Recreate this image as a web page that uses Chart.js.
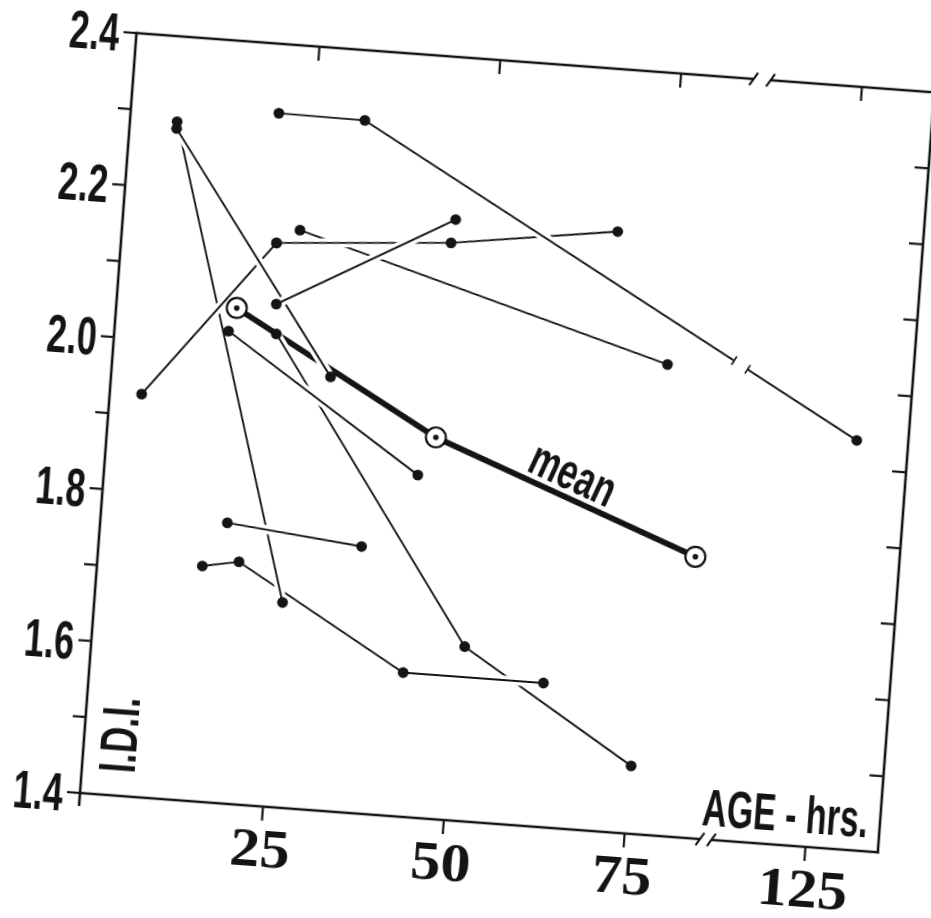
<!DOCTYPE html>
<html>
<head>
<meta charset="utf-8">
<title>I.D.I. against age</title>
<script src="https://cdn.jsdelivr.net/npm/chart.js@4.4.1/dist/chart.umd.min.js"></script>
<style>
  html, body { margin:0; padding:0; background:#fff; width:931px; height:918px; overflow:hidden; }
  #wrap { position:absolute; left:0; top:0; width:960px; height:902px; }
  #c { display:block; width:960px; height:902px; }
</style>
</head>
<body>
<div id="wrap"><canvas id="c" width="960" height="902"></canvas></div>
<script>
// ---------------- data ----------------
// x = age in hours, y = I.D.I.
const xTickLabels = ['25', '50', '75', '125'];
const yTickLabels = ['1.4', '1.6', '1.8', '2.0', '2.2', '2.4'];
const yMinorTicks = [1.5, 1.7, 1.9, 2.1, 2.3];

const meanAge = [16.3, 45.0, 81.9];
const meanIDI = [2.050, 1.900, 1.769];

const aAge = [6.2, 25.6];             const aIDI = [2.288, 1.669];
const bAge = [6.2, 29.9];             const bIDI = [2.279, 1.969];
const cAge = [22.0, 51.1, 75.2];      const cIDI = [2.020, 1.629, 1.489];
const dAge = [15.4, 42.9];            const dIDI = [2.019, 1.849];
const eAge = [4.1, 21.1];             const eIDI = [1.928, 2.139];
const fAge = [21.1, 45.1, 67.9];      const fIDI = [2.139, 2.156, 2.187];
const gAge = [24.2, 76.1];            const gIDI = [2.158, 2.018];
const hAge = [21.7, 45.5];            const hIDI = [2.059, 2.187];
const iAge = [20.1, 32.0, 127.9];     const iIDI = [2.309, 2.308, 1.937];
const jAge = [14.2, 19.2, 42.9, 62.3]; const jIDI = [1.709, 1.718, 1.589, 1.589];
const kAge = [17.2, 35.9];            const kIDI = [1.768, 1.750];

// ---------------- axis break: hours above 100 are drawn 25 h further left ----------------
const BREAK_ABOVE = 100, BREAK_SHIFT = 25, BREAK_AT = 86.2;
const plotX = h => (h > BREAK_ABOVE ? h - BREAK_SHIFT : h);
const toPts = (ages, vals) => ages.map((a, i) => ({ x: plotX(a), y: vals[i] }));

const INK = '#141414';
// drawing order, bottom to top (later lines cut small gaps into earlier ones)
const series = [[cAge, cIDI], [jAge, jIDI], [aAge, aIDI], [eAge, eIDI], [bAge, bIDI], [dAge, dIDI],
                [kAge, kIDI], [gAge, gIDI], [fAge, fIDI], [iAge, iIDI], [hAge, hIDI]];

const datasets = [];
let ord = 1000;
datasets.push({ label: 'mean', data: toPts(meanAge, meanIDI), showLine: true, borderColor: INK,
                borderWidth: 5.8, pointRadius: 0, order: ord-- });
series.forEach(([a, v], k) => {
  datasets.push({ label: 'gap' + k, data: toPts(a, v), showLine: true, borderColor: '#fff', borderWidth: 9,
                  borderJoinStyle: 'round', pointRadius: 0, order: ord-- });
  datasets.push({ label: 'subject' + k, data: toPts(a, v), showLine: true, borderColor: INK, borderWidth: 1.9,
                  pointRadius: 0, order: ord-- });
});
datasets.push({ label: 'points', data: series.flatMap(([a, v]) => toPts(a, v)), showLine: false,
                pointRadius: 5.4, pointBackgroundColor: INK, pointBorderColor: INK, pointBorderWidth: 0, order: ord-- });
datasets.push({ label: 'mean points', data: toPts(meanAge, meanIDI), showLine: false, pointRadius: 10,
                pointBackgroundColor: '#fff', pointBorderColor: INK, pointBorderWidth: 2.2, order: ord-- });
datasets.push({ label: 'mean centres', data: toPts(meanAge, meanIDI), showLine: false, pointRadius: 2.8,
                pointBackgroundColor: INK, pointBorderColor: INK, pointBorderWidth: 0, order: ord-- });

// ---------------- drawing helpers ----------------
function fitScale(ctx, font, text, width) {
  ctx.save(); ctx.font = font; const w = ctx.measureText(text).width; ctx.restore();
  return width / w;
}
function condText(ctx, text, x, y, font, sx, align, angle) {
  ctx.save();
  ctx.font = font; ctx.textAlign = align; ctx.textBaseline = 'alphabetic'; ctx.fillStyle = INK;
  ctx.translate(x, y);
  if (angle) ctx.rotate(angle);
  ctx.scale(sx, 1);
  ctx.fillText(text, 0, 0);
  ctx.restore();
}

const framePlugin = {
  id: 'frame',
  afterDatasetsDraw(chart) {
    const { ctx, chartArea: ca, scales: { x, y } } = chart;
    const L = ca.left, R = ca.right, T = ca.top, B = ca.bottom;
    const bx = x.getPixelForValue(BREAK_AT);
    ctx.save();
    ctx.lineCap = 'butt';
    const seg = (x1, y1, x2, y2, w, col) => {
      ctx.strokeStyle = col || INK; ctx.lineWidth = w;
      ctx.beginPath(); ctx.moveTo(x1, y1); ctx.lineTo(x2, y2); ctx.stroke();
    };
    // frame
    seg(L, T - 1.2, L, B + 13, 2.6);
    seg(R, T - 1.2, R, B + 1.2, 2.6);
    const gb = 5.7, gt = 8.5;
    seg(L - 1.2, B, bx - gb, B, 2.6); seg(bx + gb, B, R + 1.2, B, 2.6);
    seg(L - 1.2, T, bx - gt, T, 2.6); seg(bx + gt, T, R + 1.2, T, 2.6);
    [[B, gb], [T, gt]].forEach(([yy, g]) => {
      [-g, g].forEach(d => seg(bx + d - 4, yy + 6.5, bx + d + 4, yy - 6.5, 2.2));
    });
    // y ticks: outward on the left, inward on the right
    const majors = yTickLabels.map(Number);
    majors.concat(yMinorTicks).forEach(v => {
      const p = y.getPixelForValue(v); seg(L - 13, p, L, p, 2.2);
    });
    majors.filter(v => v > 1.41 && v < 2.39).concat(yMinorTicks).forEach(v => {
      const p = y.getPixelForValue(v); seg(R - 14, p, R, p, 2.2);
    });
    // x ticks: outward at the bottom, inward at the top
    xTickLabels.forEach(t => {
      const p = x.getPixelForValue(plotX(Number(t)));
      seg(p, B, p, B + 14, 2.2); seg(p, T, p, T + 14, 2.2);
    });
    // break in the long line that crosses the axis break
    const pts = toPts(iAge, iIDI);
    for (let k = 0; k < pts.length - 1; k++) {
      if (pts[k].x < BREAK_AT && pts[k + 1].x > BREAK_AT) {
        const x1 = x.getPixelForValue(pts[k].x), y1 = y.getPixelForValue(pts[k].y);
        const x2 = x.getPixelForValue(pts[k + 1].x), y2 = y.getPixelForValue(pts[k + 1].y);
        const len = Math.hypot(x2 - x1, y2 - y1), dx = (x2 - x1) / len, dy = (y2 - y1) / len;
        const t = (bx - x1) / (x2 - x1);
        const cx = x1 + t * (x2 - x1), cy = y1 + t * (y2 - y1);
        const h = 8;
        seg(cx - dx * h, cy - dy * h, cx + dx * h, cy + dy * h, 6, '#fff');
        [-h, h].forEach(s => {
          const px = cx + dx * s, py = cy + dy * s;
          seg(px + dy * 5, py - dx * 5, px - dy * 5, py + dx * 5, 1.6);
        });
      }
    }
    ctx.restore();
  },
  afterDraw(chart) {
    const { ctx, chartArea: ca, scales: { x, y } } = chart;
    const L = ca.left, R = ca.right, B = ca.bottom;
    // y tick labels
    const fy = 'bold 53px "Liberation Sans", Arial, sans-serif';
    const sy = fitScale(ctx, fy, '2.0', 50);
    yTickLabels.forEach(t => condText(ctx, t, L - 17, y.getPixelForValue(Number(t)) + 19, fy, sy, 'right'));
    // x tick labels
    const fx = 'bold 55px "Liberation Serif", "Times New Roman", serif';
    xTickLabels.forEach(t => {
      const sx = fitScale(ctx, fx, t, 30 * t.length);
      condText(ctx, t, x.getPixelForValue(plotX(Number(t))), B + 60, fx, sx, 'center');
    });
    // axis titles
    const fa = 'bold 51px "Liberation Sans", Arial, sans-serif';
    condText(ctx, 'AGE - hrs.', R - 12, B - 14.5, fa, fitScale(ctx, fa, 'AGE - hrs.', 166), 'right');
    const fi = 'bold 51px "Liberation Sans", Arial, sans-serif';
    condText(ctx, 'I.D.I.', L + 52.5, B - 61, fi, fitScale(ctx, fi, 'I.D.I.', 76), 'center', -Math.PI / 2);
    // "mean" label along the mean line
    const m = toPts(meanAge, meanIDI);
    const p2x = x.getPixelForValue(m[1].x), p2y = y.getPixelForValue(m[1].y);
    const p3x = x.getPixelForValue(m[2].x), p3y = y.getPixelForValue(m[2].y);
    const ang = Math.atan2(p3y - p2y, p3x - p2x);
    const tx = p2x + 0.49 * (p3x - p2x), ty = p2y + 0.49 * (p3y - p2y);
    const off = 7.5;
    const fm = 'bold 50px "Liberation Sans", Arial, sans-serif';
    condText(ctx, 'mean', tx + Math.sin(ang) * off, ty - Math.cos(ang) * off, fm,
             fitScale(ctx, fm, 'mean', 90), 'center', ang);
  }
};

const chart = new Chart(document.getElementById('c'), {
  type: 'scatter',
  data: { datasets },
  options: {
    responsive: false, animation: false, events: [], devicePixelRatio: 1,
    layout: { autoPadding: false, padding: { top: 50, right: 40, left: 0, bottom: 0 } },
    plugins: { legend: { display: false }, tooltip: { enabled: false } },
    scales: {
      x: { type: 'linear', min: -0.3, max: 110, ticks: { display: false }, grid: { display: false },
           border: { display: false }, afterFit(s) { s.height = 90; } },
      y: { type: 'linear', min: 1.4, max: 2.4, ticks: { display: false }, grid: { display: false },
           border: { display: false }, afterFit(s) { s.width = 120; } }
    }
  },
  plugins: [framePlugin]
});

// the original figure is printed slightly rotated; turn the chart about its lower-left corner
const ca = chart.chartArea;
const wrap = document.getElementById('wrap');
wrap.style.transformOrigin = ca.left + 'px ' + ca.bottom + 'px';
wrap.style.left = (80 - ca.left) + 'px';
wrap.style.top = (793 - ca.bottom) + 'px';
wrap.style.transform = 'rotate(4.25deg)';
</script>
</body>
</html>
